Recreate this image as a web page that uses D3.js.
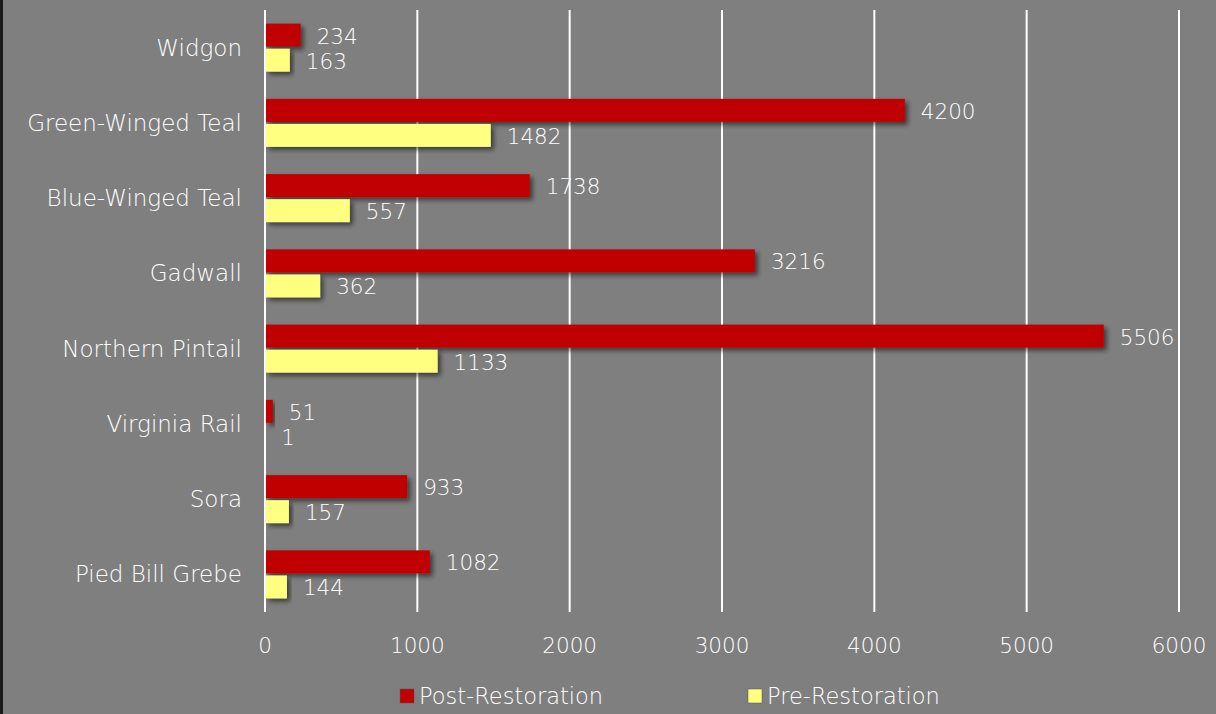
<!DOCTYPE html>
<html><head><meta charset="utf-8">
<script src="https://cdn.jsdelivr.net/npm/d3@7"></script>
<style>
html,body{margin:0;padding:0;background:#7f7f7f;}
svg{display:block;}
text{font-family:"DejaVu Sans",sans-serif;font-weight:200;fill:#fff;}
</style></head><body>
<svg id="chart" width="1216" height="714"></svg>
<script>
const categories = ["Widgon","Green-Winged Teal","Blue-Winged Teal","Gadwall","Northern Pintail","Virginia Rail","Sora","Pied Bill Grebe"];
const postRestoration = [234,4200,1738,3216,5506,51,933,1082];
const preRestoration = [163,1482,557,362,1133,1,157,144];
const seriesNames = ["Post-Restoration","Pre-Restoration"];
const seriesColors = ["#c00000","#ffff80"];
const xTicks = [0,1000,2000,3000,4000,5000,6000];

const svg = d3.select("#chart");
svg.append("rect").attr("width",1216).attr("height",714).attr("fill","#7f7f7f");
svg.append("rect").attr("x",0).attr("y",0).attr("width",3).attr("height",714).attr("fill","#1a1a1a");

const defs = svg.append("defs");
const f = defs.append("filter").attr("id","sh").attr("x","-10%").attr("y","-30%").attr("width","130%").attr("height","180%");
f.append("feDropShadow").attr("dx",3).attr("dy",3).attr("stdDeviation",2.5).attr("flood-color","#000").attr("flood-opacity",0.55);

const x = d3.scaleLinear().domain([0,6000]).range([265,1179]);
const y = d3.scaleBand().domain(categories).range([10,612]).paddingInner(0).paddingOuter(0);
const sub = d3.scaleBand().domain(seriesNames).range([y.bandwidth()/2-24, y.bandwidth()/2+24]).paddingInner(4/48);

svg.append("g").selectAll("line").data(xTicks).join("line")
  .attr("x1",d=>x(d)).attr("x2",d=>x(d)).attr("y1",10).attr("y2",612)
  .attr("stroke","#fff").attr("stroke-width",2);

svg.append("g").selectAll("text").data(xTicks).join("text")
  .attr("x",d=>x(d)).attr("y",645).attr("text-anchor","middle").attr("dominant-baseline","central")
  .attr("font-size",21.5).text(d=>d);

svg.append("g").selectAll("text").data(categories).join("text")
  .attr("x",242).attr("y",d=>y(d)+y.bandwidth()/2).attr("text-anchor","end").attr("dominant-baseline","central")
  .attr("font-size",23).text(d=>d);

const series = [postRestoration, preRestoration];
series.forEach((vals,si)=>{
  const g = svg.append("g");
  const data = categories.map((c,i)=>({c,v:vals[i]}));
  g.selectAll("rect").data(data).join("rect")
    .attr("x",x(0)+1).attr("y",d=>y(d.c)+sub(seriesNames[si]))
    .attr("width",d=>Math.max(0,x(d.v)-x(0)-1)).attr("height",sub.bandwidth())
    .attr("fill",seriesColors[si]).attr("filter","url(#sh)");
  g.selectAll("text").data(data).join("text")
    .attr("x",d=>x(d.v)+16).attr("y",d=>y(d.c)+sub(seriesNames[si])+sub.bandwidth()/2+1)
    .attr("dominant-baseline","central").attr("font-size",21.5).text(d=>d.v);
});

const legX = [400,748];
seriesNames.forEach((n,i)=>{
  svg.append("rect").attr("x",legX[i]).attr("y",689).attr("width",14).attr("height",14)
    .attr("fill",seriesColors[i]).attr("stroke","#555").attr("stroke-width",0.5);
  svg.append("text").attr("x",legX[i]+19).attr("y",696).attr("dominant-baseline","central")
    .attr("font-size",22.5).text(n);
});
</script></body></html>
